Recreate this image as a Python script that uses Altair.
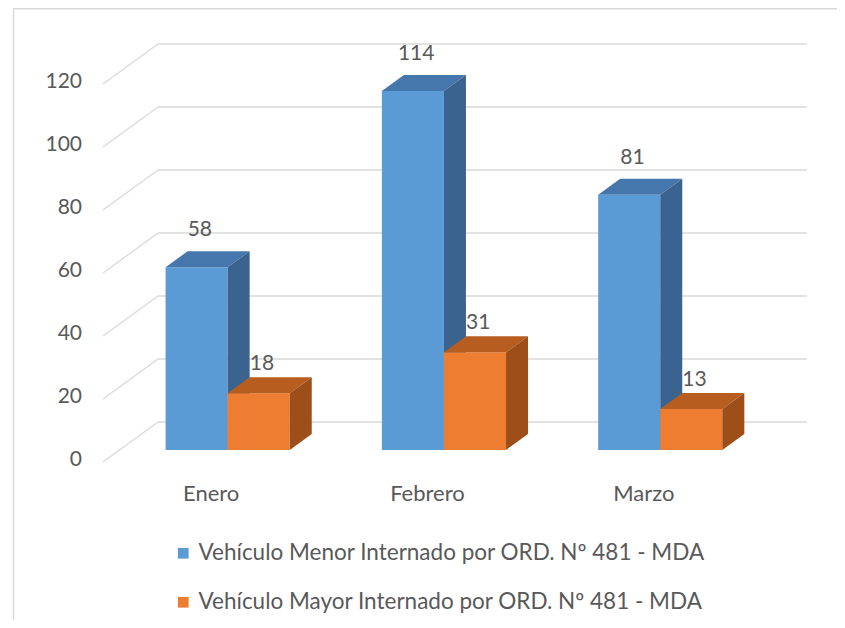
import altair as alt
import pandas as pd

# ---------------- data ----------------
categories = ["Enero", "Febrero", "Marzo"]
series_names = [
    "Vehículo Menor Internado por ORD. Nº 481 - MDA",
    "Vehículo Mayor Internado por ORD. Nº 481 - MDA",
]
menor = [58, 114, 81]
mayor = [18, 31, 13]
y_ticks = [0, 20, 40, 60, 80, 100, 120]

# ---------------- layout / style ----------------
W, H = 824, 612
PX_X = 216.3          # px per category unit
PX_Y = 3.15           # px per value unit
DEPTH_PX_X, DEPTH_PX_Y = 55, 40
DX = DEPTH_PX_X / PX_X
DY = DEPTH_PX_Y / PX_Y
X_LEFT = -0.5 - 90 / PX_X
X_RIGHT = X_LEFT + W / PX_X
Y_TOP = 454 / PX_Y
Y_BOT = Y_TOP - H / PX_Y
BAR_W = 0.287
D0, D1 = 0.3, 0.7
FONT = "Lato"
TXT = "#595959"
GRID = "#D9D9D9"
FRONT = ["#5B9BD5", "#ED7D31"]
TOP = ["#4677AC", "#B75D20"]
SIDE = ["#3A638F", "#9E4F19"]
LABEL_DY = [-37, -29]

xs = alt.Scale(domain=[X_LEFT, X_RIGHT], nice=False, zero=False)
ys = alt.Scale(domain=[Y_BOT, Y_TOP], nice=False, zero=False)


def X(f="x"):
    return alt.X(f"{f}:Q", scale=xs, axis=None)


def Y(f="y"):
    return alt.Y(f"{f}:Q", scale=ys, axis=None, stack=None)


values = [menor, mayor]
n_cat = len(categories)

# ---------------- grid ----------------
back = pd.DataFrame({"v": y_ticks})
back["x"] = -0.5 + DX
back["x2"] = n_cat - 0.5 + DX
back["y"] = back["v"] + DY
back_grid = alt.Chart(back).mark_rule(color=GRID, strokeWidth=1.3).encode(
    x=X(), x2="x2:Q", y=Y()
)
side = pd.DataFrame({"v": y_ticks})
side["x"] = -0.5
side["x2"] = -0.5 + DX
side["y"] = side["v"]
side["y2"] = side["v"] + DY
side_grid = alt.Chart(side).mark_rule(color=GRID, strokeWidth=1.3).encode(
    x=X(), x2="x2:Q", y=Y(), y2="y2:Q"
)

tick_df = pd.DataFrame({"v": y_ticks, "x": -0.5})
tick_labels = alt.Chart(tick_df).mark_text(
    align="right", baseline="middle", dx=-21, dy=-2, font=FONT, fontSize=21, color=TXT
).encode(x=X(), y=alt.Y("v:Q", scale=ys, axis=None), text="v:Q")

cat_df = pd.DataFrame({"cat": categories, "x": list(range(n_cat)), "y": 0})
cat_labels = alt.Chart(cat_df).mark_text(
    align="center", baseline="middle", dy=32, font=FONT, fontSize=22, color=TXT
).encode(x=X(), y=Y(), text="cat:N")

# ---------------- bars ----------------
color_scale = alt.Scale(domain=series_names, range=FRONT)
layers = [back_grid, side_grid]
for s, vals in enumerate(values):
    fr, tp, sd, lb = [], [], [], []
    for i, v in enumerate(vals):
        xl = i - BAR_W if s == 0 else i
        xr = xl + BAR_W
        bid = f"{s}-{i}"
        fr.append({"series": series_names[s], "x": xl + D0 * DX, "x2": xr + D0 * DX,
                   "y": D0 * DY, "y2": v + D0 * DY})
        for d in (D0, D1):
            tp.append({"bar": bid, "y": v + d * DY, "x": xl + d * DX, "x2": xr + d * DX})
            sd.append({"bar": bid, "x": xr + d * DX, "y": d * DY, "y2": v + d * DY})
        lb.append({"v": v, "x": (xl + xr) / 2 + D0 * DX + 0.015, "y": v + D0 * DY})
    front = alt.Chart(pd.DataFrame(fr)).mark_rect().encode(
        x=X(), x2="x2:Q", y=Y(), y2="y2:Q",
        color=alt.Color("series:N", scale=color_scale,
                        legend=alt.Legend(title=None, orient="none")),
    )
    top = alt.Chart(pd.DataFrame(tp)).mark_area(orient="horizontal", color=TOP[s]).encode(
        y=Y(), x=X(), x2="x2:Q", detail="bar:N"
    )
    sidef = alt.Chart(pd.DataFrame(sd)).mark_area(orient="vertical", color=SIDE[s]).encode(
        x=X(), y=Y(), y2="y2:Q", detail="bar:N"
    )
    labels = alt.Chart(pd.DataFrame(lb)).mark_text(
        align="center", baseline="middle", dy=LABEL_DY[s], font=FONT, fontSize=21, color=TXT
    ).encode(x=X(), y=Y(), text="v:Q")
    layers += [front, top, sidef, labels]

border_l = alt.Chart().mark_rule(color=GRID, strokeWidth=1.5).encode(
    x=alt.value(0.5), y=alt.value(0), y2=alt.value(H))
border_t = alt.Chart().mark_rule(color=GRID, strokeWidth=1.5).encode(
    x=alt.value(0), x2=alt.value(W), y=alt.value(0.75), y2=alt.value(0.75))

chart = alt.layer(*layers, tick_labels, cat_labels, border_l, border_t).properties(
    width=W, height=H,
    autosize=alt.AutoSizeParams(type="none"),
    padding={"left": 5, "top": 0, "right": 0, "bottom": 0},
    background="white",
).configure_view(strokeWidth=0, strokeOpacity=0).configure_legend(
    orient="none", legendX=159, legendY=534, symbolType="square", symbolSize=115,
    symbolStrokeWidth=0, labelFontSize=22.5, labelFont=FONT, labelColor=TXT,
    rowPadding=26, labelLimit=900, padding=0, labelOffset=4,
)

chart.save("out.html", embed_options={"renderer": "svg", "actions": False})
